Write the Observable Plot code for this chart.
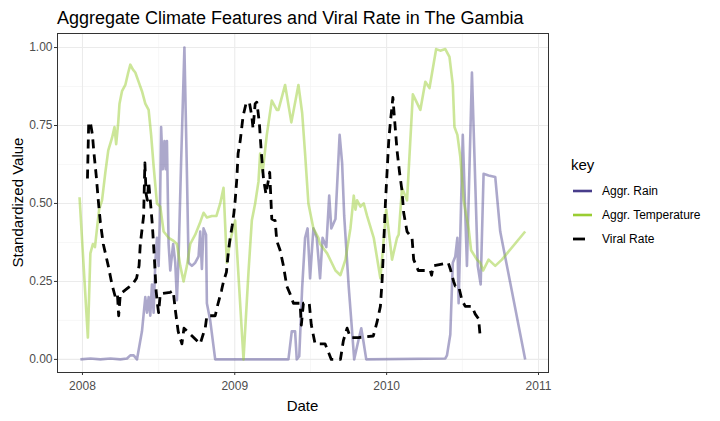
<!DOCTYPE html>
<html><head><meta charset="utf-8">
<script src="https://cdn.jsdelivr.net/npm/d3@7"></script>
<script src="https://cdn.jsdelivr.net/npm/@observablehq/plot@0.6"></script>
<style>body{margin:0;background:#fff}</style>
</head><body><div id="chart"></div>
<script>
const rainDates = ["2007-12-27","2008-01-20","2008-02-13","2008-03-08","2008-04-01","2008-04-17","2008-04-25","2008-05-03","2008-05-11","2008-05-23","2008-05-31","2008-06-04","2008-06-08","2008-06-12","2008-06-16","2008-06-20","2008-06-24","2008-06-28","2008-07-02","2008-07-05","2008-07-08","2008-07-12","2008-07-16","2008-07-19","2008-07-22","2008-07-26","2008-07-30","2008-08-06","2008-08-11","2008-08-15","2008-08-19","2008-08-25","2008-09-02","2008-09-08","2008-09-12","2008-09-20","2008-09-28","2008-10-06","2008-10-10","2008-10-14","2008-10-18","2008-10-24","2008-10-26","2008-11-03","2008-11-15","2009-05-10","2009-05-18","2009-05-26","2009-05-30","2009-06-05","2009-06-12","2009-06-19","2009-06-25","2009-07-01","2009-07-09","2009-07-17","2009-07-25","2009-07-31","2009-08-09","2009-08-16","2009-08-21","2009-08-31","2009-09-10","2009-09-16","2009-09-21","2009-10-02","2009-10-10","2009-10-15","2009-10-25","2009-11-01","2009-11-06","2009-11-13","2010-05-22","2010-05-26","2010-06-03","2010-06-09","2010-06-15","2010-06-20","2010-06-23","2010-07-03","2010-07-13","2010-07-25","2010-08-08","2010-08-15","2010-08-22","2010-09-03","2010-09-19","2010-10-01","2010-11-30"];
const rainValues = [0.0,0.003,0.0,0.003,0.0,0.003,0.013,0.013,0.0,0.09,0.20,0.15,0.20,0.14,0.24,0.15,0.31,0.39,0.30,0.45,0.745,0.61,0.70,0.61,0.70,0.37,0.285,0.37,0.31,0.19,0.33,0.63,1.0,0.60,0.31,0.30,0.31,0.33,0.41,0.29,0.42,0.40,0.18,0.125,0.0,0.0,0.09,0.09,0.0,0.01,0.23,0.39,0.42,0.26,0.42,0.39,0.26,0.39,0.36,0.525,0.42,0.45,0.72,0.63,0.46,0.23,0.09,0.0,0.06,0.10,0.06,0.0,0.003,0.013,0.08,0.31,0.33,0.39,0.18,0.72,0.30,0.92,0.30,0.24,0.595,0.59,0.585,0.41,0.0];

const tempDates = ["2007-12-25","2008-01-14","2008-01-20","2008-01-26","2008-01-31","2008-02-05","2008-02-10","2008-02-17","2008-02-25","2008-03-03","2008-03-12","2008-03-18","2008-03-22","2008-03-27","2008-03-30","2008-04-05","2008-04-13","2008-04-20","2008-04-25","2008-05-01","2008-05-07","2008-05-15","2008-05-23","2008-05-31","2008-06-08","2008-06-14","2008-06-20","2008-06-28","2008-07-06","2008-07-14","2008-07-26","2008-08-07","2008-08-15","2008-08-23","2008-08-31","2008-09-08","2008-09-16","2008-09-28","2008-10-10","2008-10-18","2008-10-26","2008-11-07","2008-11-18","2008-11-27","2008-12-05","2008-12-13","2008-12-21","2009-01-02","2009-01-22","2009-02-03","2009-02-11","2009-02-19","2009-02-27","2009-03-03","2009-03-09","2009-03-19","2009-03-31","2009-04-12","2009-04-16","2009-05-02","2009-05-17","2009-06-03","2009-06-12","2009-06-19","2009-06-27","2009-07-09","2009-07-21","2009-07-25","2009-08-11","2009-08-31","2009-09-12","2009-09-24","2009-10-06","2009-10-14","2009-10-18","2009-10-22","2009-10-30","2009-11-07","2009-11-15","2009-12-01","2009-12-17","2009-12-31","2010-01-14","2010-01-26","2010-01-30","2010-02-07","2010-02-19","2010-03-05","2010-03-23","2010-04-04","2010-04-14","2010-04-30","2010-05-10","2010-05-22","2010-06-01","2010-06-09","2010-06-13","2010-06-20","2010-06-27","2010-07-05","2010-07-17","2010-07-23","2010-08-06","2010-08-14","2010-08-21","2010-09-03","2010-09-19","2010-10-05","2010-11-30"];
const tempValues = [0.52,0.07,0.34,0.37,0.36,0.42,0.48,0.51,0.60,0.67,0.71,0.745,0.69,0.76,0.82,0.86,0.88,0.92,0.945,0.93,0.92,0.89,0.86,0.82,0.80,0.72,0.62,0.50,0.49,0.41,0.39,0.38,0.37,0.30,0.25,0.30,0.37,0.40,0.44,0.47,0.455,0.46,0.46,0.50,0.55,0.31,0.38,0.445,0.0,0.28,0.445,0.50,0.57,0.66,0.60,0.72,0.83,0.80,0.80,0.88,0.76,0.88,0.79,0.66,0.50,0.42,0.39,0.37,0.34,0.285,0.27,0.32,0.42,0.525,0.48,0.51,0.49,0.50,0.46,0.39,0.26,0.48,0.32,0.39,0.40,0.55,0.51,0.85,0.80,0.89,0.87,0.995,0.99,0.995,0.97,0.88,0.745,0.72,0.65,0.51,0.42,0.35,0.32,0.31,0.285,0.32,0.30,0.32,0.41];

const viralDates = ["2008-01-13","2008-01-16","2008-01-20","2008-01-25","2008-01-28","2008-02-03","2008-02-08","2008-02-13","2008-02-20","2008-03-03","2008-03-12","2008-03-20","2008-03-25","2008-03-28","2008-04-01","2008-04-20","2008-04-30","2008-05-10","2008-05-16","2008-05-19","2008-05-27","2008-05-30","2008-06-02","2008-06-05","2008-06-08","2008-06-12","2008-06-17","2008-06-22","2008-06-26","2008-06-29","2008-07-02","2008-07-06","2008-07-30","2008-08-06","2008-08-11","2008-08-18","2008-08-27","2008-09-01","2008-10-10","2008-10-17","2008-10-22","2008-10-26","2008-11-15","2008-11-22","2008-11-30","2008-12-05","2008-12-12","2008-12-17","2008-12-21","2008-12-26","2008-12-30","2009-01-02","2009-01-06","2009-01-09","2009-01-14","2009-01-21","2009-01-28","2009-02-05","2009-02-11","2009-02-14","2009-02-19","2009-02-23","2009-03-01","2009-03-06","2009-03-11","2009-03-17","2009-03-21","2009-03-26","2009-03-31","2009-04-08","2009-04-12","2009-04-20","2009-04-28","2009-05-06","2009-05-14","2009-05-22","2009-06-07","2009-06-10","2009-06-15","2009-06-29","2009-07-04","2009-07-13","2009-08-06","2009-08-21","2009-09-12","2009-09-19","2009-09-28","2009-10-06","2009-10-25","2009-11-30","2009-12-09","2009-12-17","2009-12-21","2009-12-25","2009-12-29","2010-01-02","2010-01-06","2010-01-10","2010-01-16","2010-01-20","2010-01-26","2010-02-01","2010-02-07","2010-02-11","2010-02-19","2010-03-03","2010-03-07","2010-03-18","2010-04-16","2010-04-19","2010-04-23","2010-05-29","2010-06-03","2010-06-11","2010-06-15","2010-06-23","2010-07-01","2010-07-09","2010-07-25","2010-08-02","2010-08-10","2010-08-14"];
const viralValues = [0.58,0.76,0.76,0.72,0.67,0.59,0.51,0.44,0.37,0.30,0.24,0.20,0.21,0.14,0.21,0.23,0.24,0.26,0.30,0.37,0.46,0.63,0.53,0.51,0.57,0.51,0.43,0.32,0.22,0.18,0.15,0.21,0.215,0.22,0.16,0.09,0.05,0.10,0.05,0.08,0.10,0.14,0.14,0.18,0.22,0.25,0.28,0.35,0.39,0.43,0.47,0.51,0.58,0.66,0.70,0.78,0.82,0.825,0.78,0.74,0.82,0.825,0.76,0.66,0.58,0.53,0.56,0.60,0.45,0.445,0.38,0.35,0.30,0.235,0.21,0.18,0.18,0.11,0.18,0.18,0.11,0.05,0.05,0.0,0.0,0.06,0.10,0.07,0.07,0.075,0.12,0.17,0.25,0.37,0.50,0.60,0.70,0.76,0.84,0.77,0.67,0.60,0.54,0.47,0.41,0.39,0.32,0.285,0.285,0.27,0.30,0.31,0.29,0.25,0.235,0.235,0.19,0.17,0.17,0.145,0.13,0.07];

const seriesKeys = ["Aggr. Rain", "Aggr. Temperature", "Viral Rate"];
const seriesColors = ["#483d8b", "#9acd32", "#000000"];
const xTickDates = ["2008-01-01", "2009-01-01", "2010-01-01", "2011-01-01"];
const xTickLabels = ["2008", "2009", "2010", "2011"];
const xMinorDates = ["2008-07-02", "2009-07-02", "2010-07-02"];
const yTicks = [0, 0.25, 0.5, 0.75, 1];
const yTickLabels = ["0.00", "0.25", "0.50", "0.75", "1.00"];
const yMinor = [0.125, 0.375, 0.625, 0.875];
const titleText = "Aggregate Climate Features and Viral Rate in The Gambia";
const xTitle = "Date";
const yTitle = "Standardized Value";
const legendTitle = "key";

const FONT = "'Liberation Sans', Arial, Helvetica, sans-serif";
const toRows = (key, dates, values) => dates.map((d, i) => ({key, date: new Date(d), value: values[i]}));
const rain = toRows(seriesKeys[0], rainDates, rainValues);
const temp = toRows(seriesKeys[1], tempDates, tempValues);
const viral = toRows(seriesKeys[2], viralDates, viralValues);
const xt = xTickDates.map(d => new Date(d));
const xm = xMinorDates.map(d => new Date(d));

const plot = Plot.plot({
  width: 720, height: 421,
  marginLeft: 57, marginRight: 172, marginTop: 33, marginBottom: 49,
  style: {fontFamily: FONT, background: "#fff", overflow: "visible"},
  x: {type: "utc", domain: [new Date("2007-11-02"), new Date("2011-01-25")]},
  y: {domain: [-0.042, 1.045]},
  marks: [
    Plot.gridX(xm, {stroke: "#f2f2f2", strokeOpacity: 1, strokeWidth: 0.6}),
    Plot.gridY(yMinor, {stroke: "#f2f2f2", strokeOpacity: 1, strokeWidth: 0.6}),
    Plot.gridX(xt, {stroke: "#ebebeb", strokeOpacity: 1, strokeWidth: 1.1}),
    Plot.gridY(yTicks, {stroke: "#ebebeb", strokeOpacity: 1, strokeWidth: 1.1}),
    Plot.line(rain, {x: "date", y: "value", stroke: seriesColors[0], strokeOpacity: 0.45, strokeWidth: 2.6, strokeLinecap: "butt"}),
    Plot.line(temp, {x: "date", y: "value", stroke: seriesColors[1], strokeOpacity: 0.5, strokeWidth: 2.6, strokeLinecap: "butt"}),
    Plot.line(viral, {x: "date", y: "value", stroke: seriesColors[2], strokeWidth: 2.8, strokeDasharray: "9,6", strokeLinecap: "butt"}),
    Plot.frame({stroke: "#333", strokeWidth: 1}),
    Plot.axisX(xt, {tickFormat: d => xTickLabels[xt.findIndex(t => +t === +d)], tickSize: 3, tickPadding: 6, stroke: "#333", fill: "#4d4d4d", fontSize: 12, label: null}),
    Plot.axisY(yTicks, {tickFormat: d => yTickLabels[yTicks.indexOf(d)], tickSize: 3, tickPadding: 2, stroke: "#333", fill: "#4d4d4d", fontSize: 12, label: null})
  ]
});
document.getElementById("chart").appendChild(plot);

const svg = d3.select(plot);
const g = svg.append("g").attr("font-family", FONT).attr("text-anchor", "start");
g.append("text").attr("x", 57).attr("y", 24).attr("text-anchor", "start").attr("font-size", 18).attr("fill", "#000").text(titleText);
g.append("text").attr("x", 302.5).attr("y", 411).attr("text-anchor", "middle").attr("font-size", 15).attr("fill", "#000").text(xTitle);
g.append("text").attr("transform", "translate(23,202.5) rotate(-90)").attr("text-anchor", "middle").attr("font-size", 15).attr("fill", "#000").text(yTitle);
g.append("text").attr("x", 571).attr("y", 170).attr("text-anchor", "start").attr("font-size", 15).attr("fill", "#000").text(legendTitle);
seriesKeys.forEach((k, i) => {
  const y = 191 + i * 24;
  const ln = g.append("line").attr("x1", 573).attr("x2", 592).attr("y1", y).attr("y2", y)
    .attr("stroke", seriesColors[i]).attr("stroke-width", i === 2 ? 2.8 : 2.6);
  if (i === 2) ln.attr("stroke-dasharray", "12,20");
  g.append("text").attr("x", 602).attr("y", y + 4).attr("text-anchor", "start").attr("font-size", 12).attr("fill", "#000").text(k);
});
</script></body></html>
